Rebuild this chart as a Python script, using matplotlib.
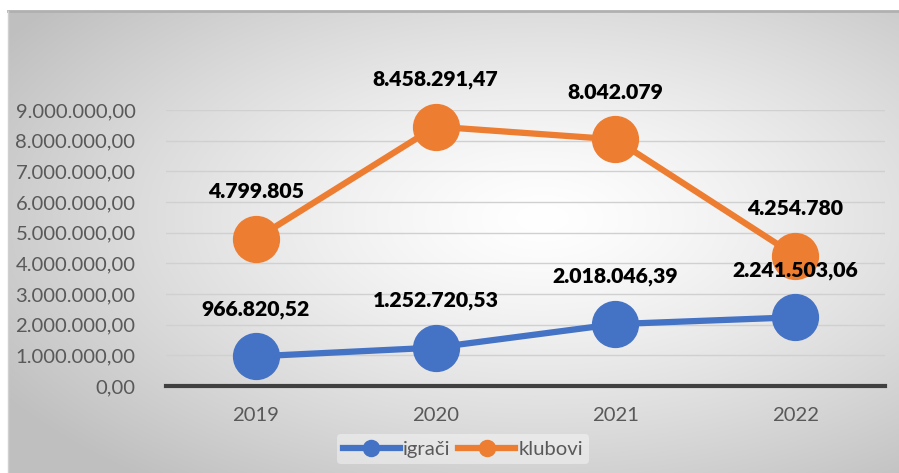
import numpy as np
from matplotlib import pyplot as plt
from matplotlib.ticker import FuncFormatter

years = ["2019", "2020", "2021", "2022"]
igraci = [966820.52, 1252720.53, 2018046.39, 2241503.06]
klubovi = [4799805, 8458291.47, 8042079, 4254780]
igraci_labels = ["966.820,52", "1.252.720,53", "2.018.046,39", "2.241.503,06"]
klubovi_labels = ["4.799.805", "8.458.291,47", "8.042.079", "4.254.780"]

blue = "#4472C4"
orange = "#ED7D31"
font = ["Lato", "DejaVu Sans"]
plt.rcParams["font.family"] = font

fig = plt.figure(figsize=(8.99, 4.73), dpi=100)

# radial grey background of the chart frame
bg = fig.add_axes([8 / 899, 0, 1 - 8 / 899, 1 - 11 / 473])
yy, xx = np.mgrid[0:1:300j, 0:1:600j]
r = np.sqrt(((xx - 0.6) / 0.72) ** 2 + ((yy - 0.55) / 0.72) ** 2)
g = 1 - 0.25 * np.clip(r, 0, 1) ** 1.3
bg.imshow(np.dstack([g, g, g]), aspect="auto", extent=[0, 1, 0, 1], origin="lower")
bg.set_xticks([])
bg.set_yticks([])
for s in bg.spines.values():
    s.set_visible(False)
bg.plot([0, 1], [1, 1], color="#b0b0b0", lw=2, transform=bg.transAxes, clip_on=False)
bg.plot([0, 0], [0, 1], color="#d0d0d0", lw=1, transform=bg.transAxes, clip_on=False)

ax = fig.add_axes([166 / 899, 1 - 386 / 473, 719 / 899, 276 / 473])
ax.patch.set_alpha(0)
x = np.arange(len(years))

ax.plot(x, igraci, color=blue, lw=4.5, marker="o", ms=33, label="igrači", clip_on=False, zorder=3)
ax.plot(x, klubovi, color=orange, lw=4.5, marker="o", ms=33, label="klubovi", clip_on=False, zorder=3)

for i in range(len(years)):
    ax.annotate(igraci_labels[i], (x[i], igraci[i]), xytext=(0, 34), textcoords="offset points",
                ha="center", va="center", fontsize=15.3, fontweight="heavy", color="black", zorder=5)
    ax.annotate(klubovi_labels[i], (x[i], klubovi[i]), xytext=(0, 34), textcoords="offset points",
                ha="center", va="center", fontsize=15.3, fontweight="heavy", color="black", zorder=5)

ax.set_xlim(-0.5, 3.5)
ax.set_ylim(0, 9000000)
ax.set_yticks(np.arange(0, 9000001, 1000000))
ax.yaxis.set_major_formatter(FuncFormatter(
    lambda v, p: "{:,.2f}".format(v).replace(",", " ").replace(".", ",").replace(" ", ".")))
ax.set_xticks(x)
ax.set_xticklabels(years)
ax.tick_params(axis="both", length=0, labelsize=14.6, colors="#595959")
ax.tick_params(axis="x", pad=15)
ax.tick_params(axis="y", pad=22)
ax.grid(axis="y", color="#d0d0d0", lw=1)
ax.set_axisbelow(True)
for s in ["top", "right", "left"]:
    ax.spines[s].set_visible(False)
ax.spines["bottom"].set_color("#404040")
ax.spines["bottom"].set_linewidth(3)
ax.spines["bottom"].set_zorder(2)

leg = ax.legend(loc="center", bbox_to_anchor=(297 / 719, -63 / 276), ncol=2, frameon=True,
                fontsize=14.6, handlelength=2.8, columnspacing=0.4, handletextpad=0.15,
                markerscale=0.35, borderpad=0.3)
leg.get_frame().set_facecolor("white")
leg.get_frame().set_alpha(0.4)
leg.get_frame().set_edgecolor("none")
for t in leg.get_texts():
    t.set_color("#595959")

fig.savefig("out.png", dpi=100)
